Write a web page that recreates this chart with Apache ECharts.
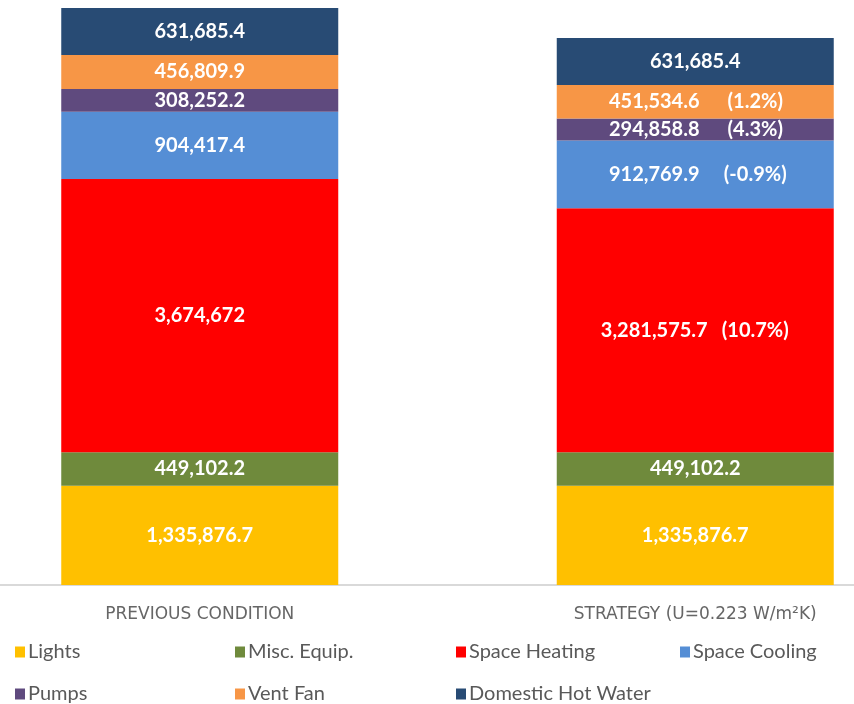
<!DOCTYPE html>
<html>
<head>
<meta charset="utf-8">
<script src="https://cdn.jsdelivr.net/npm/echarts@6/dist/echarts.min.js"></script>
<style>
  html, body { margin: 0; padding: 0; background: #fff; }
  #main { width: 854px; height: 704px; }
</style>
</head>
<body>
<div id="main"></div>
<script>
// categories (x axis)
var categories = ['PREVIOUS CONDITION', 'STRATEGY (U=0.223 W/m²K)'];

// series values, bottom to top
var seriesNames = ['Lights', 'Misc. Equip.', 'Space Heating', 'Space Cooling', 'Pumps', 'Vent Fan', 'Domestic Hot Water'];
var lights = [1335876.7, 1335876.7];
var miscEquip = [449102.2, 449102.2];
var spaceHeating = [3674672, 3281575.7];
var spaceCooling = [904417.4, 912769.9];
var pumps = [308252.2, 294858.8];
var ventFan = [456809.9, 451534.6];
var hotWater = [631685.4, 631685.4];

// percent change shown beside the strategy values
var pctChange = [null, null, '10.7%', '-0.9%', '4.3%', '1.2%', null];

var colors = ['#FFC000', '#6F8A3C', '#FF0000', '#558ED5', '#5F4A7E', '#F79646', '#284B74'];

var chart = echarts.init(document.getElementById('main'));

var values = [lights, miscEquip, spaceHeating, spaceCooling, pumps, ventFan, hotWater];

function fmt(v) {
  return v.toLocaleString('en-US', { maximumFractionDigits: 1 });
}

var series = seriesNames.map(function (name, i) {
  return {
    name: name,
    type: 'bar',
    stack: 'total',
    barWidth: 277,
    data: values[i],
    itemStyle: { color: colors[i] },
    label: {
      show: true,
      position: 'inside',
      color: '#fff',
      fontFamily: 'Lato',
      fontWeight: 'bold',
      fontSize: 20,
      formatter: function (p) {
        if (p.dataIndex === 1 && pctChange[i]) {
          return '{n|' + fmt(p.value) + '}{p|(' + pctChange[i] + ')}';
        }
        return fmt(p.value);
      },
      rich: {
        n: { width: 120, align: 'center', color: '#fff', fontFamily: 'Lato', fontWeight: 'bold', fontSize: 20 },
        p: { width: 82, align: 'center', color: '#fff', fontFamily: 'Lato', fontWeight: 'bold', fontSize: 20 }
      }
    }
  };
});

// legend positions, one small legend per item
var legendPos = [
  [10, 637], [230, 637], [451, 637], [675, 637],
  [10, 679], [230, 679], [451, 679]
];
var legends = seriesNames.map(function (name, i) {
  return {
    data: [name],
    left: legendPos[i][0],
    top: legendPos[i][1],
    icon: 'rect',
    itemWidth: 10,
    itemHeight: 11,
    itemGap: 0,
    textStyle: { color: '#595959', fontFamily: 'Lato', fontSize: 20, padding: [0, 0, 0, -2] }
  };
});

var option = {
  animation: false,
  backgroundColor: '#fff',
  grid: { left: -48, width: 991, top: 8, bottom: 119, outerBoundsMode: 'none' },
  legend: legends,
  xAxis: {
    type: 'category',
    data: categories,
    axisTick: { show: false },
    axisLine: { lineStyle: { color: '#D9D9D9', width: 2 } },
    axisLabel: {
      color: '#666666',
      fontFamily: 'DejaVu Sans',
      fontSize: 17,
      margin: 21
    }
  },
  yAxis: {
    type: 'value',
    min: 0,
    max: 'dataMax',
    show: false,
    splitLine: { show: false }
  },
  series: series
};

chart.setOption(option);
</script>
</body>
</html>
